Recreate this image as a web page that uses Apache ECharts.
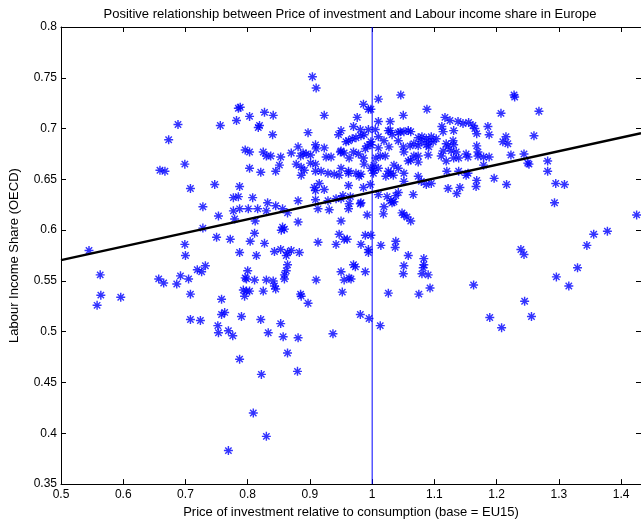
<!DOCTYPE html>
<html>
<head>
<meta charset="utf-8">
<script src="https://cdn.jsdelivr.net/npm/echarts@6/dist/echarts.min.js"></script>
<style>
  html, body { margin: 0; padding: 0; background: #fff; }
  #scatter { width: 641px; height: 524px; }
</style>
</head>
<body>
<div id="scatter"></div>
<script>
// price of investment (x) vs labour income share (y)
const pointsLowPrice = [
    [0.545,0.580],[0.563,0.556],[0.564,0.536],[0.558,0.526],[0.596,0.534],
    [0.659,0.659],[0.667,0.658],[0.673,0.689],[0.688,0.704],[0.699,0.665],
    [0.708,0.641],[0.657,0.552],[0.665,0.548],[0.686,0.547],[0.705,0.552],
    [0.708,0.537],[0.708,0.512],[0.724,0.511],[0.728,0.623],[0.728,0.602],
    [0.699,0.586],[0.700,0.575],[0.719,0.561],[0.726,0.559],[0.732,0.565],
    [0.692,0.555]
];

const pointsMidLow = [
    [0.747,0.645],[0.750,0.593],[0.753,0.614],[0.756,0.703],[0.772,0.591],
    [0.777,0.632],[0.785,0.633],[0.777,0.619],[0.779,0.611],[0.787,0.643],
    [0.782,0.708],[0.785,0.720],[0.788,0.721],[0.803,0.712],[0.796,0.679],
    [0.803,0.677],[0.803,0.661],[0.808,0.632],[0.787,0.578],[0.804,0.589],
    [0.811,0.597],[0.814,0.575],[0.787,0.621],[0.801,0.621],[0.816,0.621],
    [0.830,0.619],[0.812,0.609],[0.827,0.587],[0.843,0.579],[0.853,0.581],
    [0.821,0.657],[0.845,0.658],[0.825,0.677],[0.830,0.673],[0.837,0.673],
    [0.853,0.672],[0.851,0.664],[0.827,0.716],[0.841,0.713],[0.817,0.701],
    [0.819,0.703],[0.840,0.694],[0.832,0.627],[0.845,0.624],[0.856,0.621],
    [0.864,0.617],[0.856,0.603],[0.859,0.601],[0.854,0.600],
    [0.798,0.552],[0.811,0.551],[0.830,0.551],[0.841,0.550],[0.843,0.545],
    [0.859,0.552],[0.793,0.541],[0.798,0.540],[0.803,0.540],[0.795,0.535],
    [0.825,0.540],[0.886,0.535],[0.897,0.528],[0.800,0.560],[0.796,0.553],
    [0.845,0.542],[0.758,0.532],[0.758,0.517],[0.763,0.519],[0.752,0.506],
    [0.753,0.499],[0.769,0.501],[0.776,0.496],[0.790,0.515],[0.821,0.512],
    [0.833,0.499],[0.853,0.508],[0.857,0.495],[0.881,0.494],[0.937,0.498],
    [0.787,0.473],[0.864,0.479],[0.880,0.461],[0.822,0.458],[0.809,0.420],
    [0.830,0.397],[0.769,0.383],[0.910,0.551],[0.955,0.551],[0.952,0.539],
    [0.966,0.552],[0.950,0.559]
];

const pointsNearParity = [
    [0.904,0.751],[0.910,0.740],[0.923,0.713],[0.897,0.696],[0.946,0.694],
    [0.870,0.676],[0.881,0.682],[0.885,0.673],[0.889,0.676],[0.894,0.675],
    [0.901,0.674],[0.909,0.684],[0.910,0.680],[0.923,0.681],[0.926,0.672],
    [0.934,0.672],[0.949,0.677],[0.955,0.676],[0.963,0.671],[0.970,0.677],
    [0.978,0.675],[0.989,0.680],[0.992,0.683],[0.998,0.684],[1.010,0.681],
    [1.006,0.671],[1.013,0.673],[0.878,0.665],[0.886,0.662],[0.891,0.659],
    [0.901,0.666],[0.909,0.665],[0.909,0.658],[0.918,0.658],[0.929,0.656],
    [0.939,0.655],[0.947,0.654],[0.962,0.656],[0.974,0.656],[0.982,0.655],
    [0.986,0.671],[0.987,0.665],[0.998,0.661],[1.010,0.661],[1.002,0.656],
    [0.986,0.724],[0.994,0.719],[0.976,0.711],[1.010,0.729],[0.970,0.702],
    [0.981,0.699],[0.994,0.699],[1.005,0.699],[1.010,0.707],[0.962,0.688],
    [0.968,0.690],[0.974,0.691],[0.982,0.693],[0.987,0.694],[0.950,0.698],
    [0.958,0.687],[0.950,0.678],[0.998,0.719],[1.029,0.698],
    [0.907,0.642],[0.909,0.639],[0.915,0.646],[0.923,0.640],[0.881,0.629],
    [0.909,0.630],[0.913,0.621],[0.931,0.620],[0.929,0.629],[0.942,0.631],
    [0.953,0.634],[0.965,0.633],[0.962,0.644],[0.963,0.626],[0.962,0.621],
    [0.950,0.609],[0.992,0.615],[0.981,0.626],[0.997,0.645],[0.979,0.653],
    [0.986,0.642],[0.950,0.661],[0.962,0.658],[0.950,0.631],[0.982,0.627],
    [0.881,0.608],[0.886,0.654],
    [0.913,0.588],[0.942,0.586],[0.947,0.596],[0.960,0.591],[0.989,0.595],
    [0.998,0.595],[0.982,0.586],[0.994,0.578],[0.994,0.581],[0.970,0.566],
    [0.973,0.564],[0.989,0.559],[0.963,0.553],[0.885,0.537],[0.862,0.560],
    [0.864,0.566],[0.859,0.556],[0.862,0.575],[0.864,0.578],[0.870,0.580],
    [0.883,0.578],[0.955,0.591]
];

const pointsHighPrice = [
    [1.046,0.733],[1.088,0.719],[1.229,0.731],[1.228,0.733],[1.207,0.715],
    [1.050,0.713],[1.029,0.707],[1.026,0.698],[1.032,0.694],[1.042,0.696],
    [1.045,0.697],[1.051,0.697],[1.058,0.698],[1.062,0.697],[1.074,0.691],
    [1.080,0.692],[1.087,0.690],[1.095,0.692],[1.103,0.690],[1.112,0.702],
    [1.114,0.697],[1.117,0.711],[1.125,0.708],[1.131,0.698],[1.138,0.707],
    [1.146,0.705],[1.155,0.706],[1.162,0.703],[1.165,0.700],[1.168,0.695],
    [1.186,0.702],[1.188,0.694],[1.210,0.687],[1.215,0.692],[1.218,0.685],
    [0.998,0.687],[1.010,0.692],[1.019,0.688],[1.027,0.682],[1.042,0.688],
    [1.050,0.682],[1.051,0.677],[1.061,0.683],[1.067,0.685],[1.074,0.683],
    [1.079,0.687],[1.087,0.684],[1.091,0.687],[1.098,0.687],[1.091,0.682],
    [1.119,0.685],[1.122,0.682],[1.130,0.688],[1.131,0.684],[1.114,0.678],
    [1.111,0.673],[1.127,0.678],[1.135,0.677],[1.131,0.671],[1.139,0.671],
    [1.151,0.675],[1.154,0.672],[1.168,0.683],[1.170,0.677],[1.170,0.673],
    [1.179,0.672],[1.188,0.672],[1.223,0.674],[1.244,0.675],[1.250,0.666],
    [1.003,0.664],[1.021,0.673],[1.026,0.658],[1.035,0.664],[1.030,0.656],
    [1.042,0.661],[1.051,0.656],[1.058,0.668],[1.062,0.669],[1.067,0.673],
    [1.074,0.673],[1.074,0.667],[1.090,0.674],[1.119,0.668],[1.120,0.658],
    [1.139,0.658],[1.154,0.656],[1.179,0.664],[1.003,0.659],[1.022,0.653],
    [1.034,0.654],[1.051,0.648],[1.074,0.653],[1.079,0.648],[1.087,0.645],
    [1.095,0.646],[1.151,0.654],[1.168,0.649],[1.167,0.643],[1.196,0.651],
    [1.216,0.645],[1.122,0.641],[1.141,0.642],[1.136,0.636],[1.010,0.635],
    [1.024,0.633],[1.030,0.629],[1.035,0.628],[1.038,0.634],[1.042,0.637],
    [1.032,0.627],[1.066,0.635],[1.019,0.623],[1.018,0.616],[1.048,0.617],
    [1.051,0.615],[1.056,0.613],[1.062,0.609],[1.014,0.585],[1.038,0.589],
    [1.037,0.583],[1.058,0.575],[1.051,0.565],[1.050,0.557],[1.083,0.572],
    [1.083,0.566],[1.082,0.563],[1.080,0.557],[1.090,0.556],[1.093,0.543],
    [1.026,0.538],[1.075,0.537],[1.163,0.546],[1.239,0.581],[1.244,0.576],
    [0.981,0.517],[0.995,0.513],[1.013,0.506],[1.189,0.514],[1.208,0.504],
    [1.245,0.530],[1.256,0.515],[1.296,0.554],[1.316,0.545],[1.268,0.717],
    [1.260,0.693],[1.282,0.668],[1.282,0.658],[1.252,0.665],[1.295,0.646],
    [1.309,0.645],[1.293,0.627],[1.425,0.615],[1.356,0.596],[1.378,0.599],
    [1.345,0.585],[1.330,0.563]
];

// least squares line end points
const fitX = [0.5, 1.432];
const fitY = [0.5705, 0.6954];

// vertical reference at price = EU15 base
const parityX = [1, 1];
const parityY = [0.35, 0.8];

const fontName = '"Liberation Sans", Arial, sans-serif';

let chart = echarts.init(document.getElementById('scatter'));

// matlab style '*' marker
const asterisk = 'path://M4.2,0L5.8,0L5.8,10L4.2,10Z M0,4.2L10,4.2L10,5.8L0,5.8Z ' +
    'M2,0.9L9.1,8L8,9.1L0.9,2Z M8,0.9L9.1,2L2,9.1L0.9,8Z';

const allPoints = pointsLowPrice.concat(pointsMidLow, pointsNearParity, pointsHighPrice);

function tidy(v) {
    return String(Math.round(v * 100) / 100);
}

function pairUp(xs, ys) {
    return xs.map(function (x, i) { return [x, ys[i]]; });
}

const boxAxis = {
    axisLine: {show: true, lineStyle: {color: '#000', width: 1}},
    axisTick: {show: true, inside: true, length: 5, lineStyle: {color: '#000'}},
    splitLine: {show: false}
};

option = {
    animation: false,
    backgroundColor: '#fff',
    title: {
        text: 'Positive relationship between Price of investment and Labour income share in Europe',
        left: 350,
        textAlign: 'center',
        top: 8,
        padding: 0,
        textStyle: {
            color: '#000',
            fontSize: 13,
            fontWeight: 'normal',
            fontFamily: fontName
        }
    },
    grid: {
        left: 57,
        right: -1,
        top: 27,
        bottom: 35,
        containLabel: false
    },
    xAxis: [
        Object.assign({}, boxAxis, {
            type: 'value',
            position: 'bottom',
            min: 0.5,
            max: 1.432,
            interval: 0.1,
            name: 'Price of investment relative to consumption (base = EU15)',
            nameLocation: 'middle',
            nameGap: 20,
            nameTextStyle: {color: '#000', fontSize: 13, fontFamily: fontName},
            axisLabel: {
                color: '#000', fontSize: 12, fontFamily: fontName, margin: 5,
                showMaxLabel: false, formatter: tidy
            }
        }),
        Object.assign({}, boxAxis, {
            type: 'value',
            position: 'top',
            min: 0.5,
            max: 1.432,
            interval: 0.1,
            axisLabel: {show: false}
        })
    ],
    yAxis: [
        Object.assign({}, boxAxis, {
            type: 'value',
            position: 'left',
            min: 0.35,
            max: 0.8,
            interval: 0.05,
            name: 'Labour Income Share (OECD)',
            nameLocation: 'middle',
            nameGap: 40,
            nameTextStyle: {color: '#000', fontSize: 13, fontFamily: fontName},
            axisLabel: {color: '#000', fontSize: 12, fontFamily: fontName, margin: 4, formatter: tidy}
        }),
        Object.assign({}, boxAxis, {
            type: 'value',
            position: 'right',
            min: 0.35,
            max: 0.8,
            interval: 0.05,
            axisLabel: {show: false}
        })
    ],
    series: [
        {
            type: 'scatter',
            data: allPoints,
            symbol: asterisk,
            symbolSize: 9,
            itemStyle: {color: '#0000ff'},
            z: 2
        },
        {
            type: 'line',
            data: pairUp(parityX, parityY),
            symbol: 'none',
            lineStyle: {color: '#0000ff', width: 1},
            z: 3
        },
        {
            type: 'line',
            data: pairUp(fitX, fitY),
            symbol: 'none',
            lineStyle: {color: '#000', width: 2.5},
            z: 4
        }
    ]
};

chart.setOption(option);
</script>
</body>
</html>
